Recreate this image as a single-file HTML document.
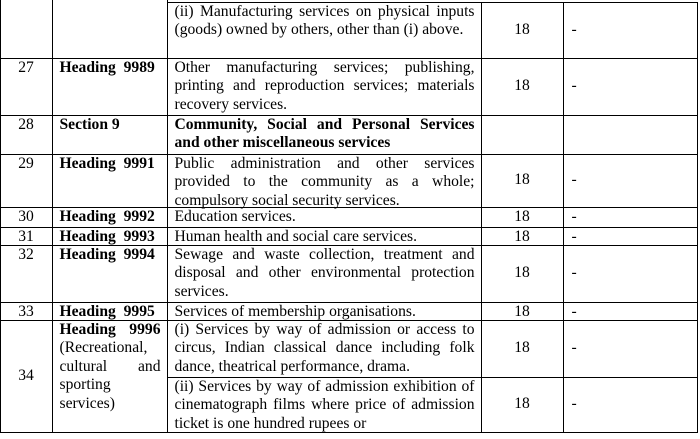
<!DOCTYPE html>
<html><head><meta charset="utf-8"><style>
html,body{margin:0;padding:0;background:#fff;}
#t{position:relative;width:700px;height:439px;overflow:hidden;font-family:"Liberation Serif",serif;font-size:15.6px;line-height:18.5px;color:#000;}
.c{position:absolute;box-sizing:border-box;border:1px solid #000;margin:-0.5px 0 0 -0.5px;}
.d{padding:0px 6px 0 7px;text-align:justify;}
.n{text-align:center;}
.h{padding:0 6px 0 7px;font-weight:bold;text-align:justify;}
.v{display:flex;align-items:center;}
.v span{display:block;width:100%;}
</style></head><body>
<div id="t">
<div class="c" style="left:0;top:-20px;width:53px;height:79px"></div>
<div class="c" style="left:52px;top:-20px;width:116px;height:79px"></div>
<div class="c d" style="left:167px;top:2px;width:315px;height:57px">(ii) Manufacturing services on physical inputs (goods) owned by others, other than (i) above.</div>
<div class="c n v" style="left:481px;top:2px;width:83px;height:57px"><span>18</span></div>
<div class="c v" style="left:563px;top:2px;width:135px;height:57px;padding-left:8px"><span>-</span></div>

<div class="c n" style="left:0;top:58px;width:53px;height:58px">27</div>
<div class="c h" style="left:52px;top:58px;width:116px;height:58px">Heading&nbsp; 9989</div>
<div class="c d" style="left:167px;top:58px;width:315px;height:58px">Other manufacturing services; publishing, printing and reproduction services; materials recovery services.</div>
<div class="c n v" style="left:481px;top:58px;width:83px;height:58px"><span>18</span></div>
<div class="c v" style="left:563px;top:58px;width:135px;height:58px;padding-left:8px"><span>-</span></div>

<div class="c n" style="left:0;top:115px;width:53px;height:40px">28</div>
<div class="c h" style="left:52px;top:115px;width:116px;height:40px">Section 9</div>
<div class="c d" style="left:167px;top:115px;width:315px;height:40px;font-weight:bold">Community, Social and Personal Services and other miscellaneous services</div>
<div class="c" style="left:481px;top:115px;width:83px;height:40px"></div>
<div class="c" style="left:563px;top:115px;width:135px;height:40px"></div>

<div class="c n" style="left:0;top:154px;width:53px;height:54px">29</div>
<div class="c h" style="left:52px;top:154px;width:116px;height:54px">Heading&nbsp; 9991</div>
<div class="c d" style="left:167px;top:154px;width:315px;height:54px">Public administration and other services provided to the community as a whole; compulsory social security services.</div>
<div class="c n v" style="left:481px;top:154px;width:83px;height:54px"><span>18</span></div>
<div class="c v" style="left:563px;top:154px;width:135px;height:54px;padding-left:8px"><span>-</span></div>

<div class="c n" style="left:0;top:207px;width:53px;height:21px;line-height:18px">30</div>
<div class="c h" style="left:52px;top:207px;width:116px;height:21px;line-height:18px">Heading&nbsp; 9992</div>
<div class="c d" style="left:167px;top:207px;width:315px;height:21px;line-height:18px">Education services.</div>
<div class="c n" style="left:481px;top:207px;width:83px;height:21px;line-height:18px">18</div>
<div class="c" style="left:563px;top:207px;width:135px;height:21px;line-height:18px;padding-left:8px">-</div>

<div class="c n" style="left:0;top:227px;width:53px;height:19px;line-height:17px">31</div>
<div class="c h" style="left:52px;top:227px;width:116px;height:19px;line-height:17px">Heading&nbsp; 9993</div>
<div class="c d" style="left:167px;top:227px;width:315px;height:19px;line-height:17px">Human health and social care services.</div>
<div class="c n" style="left:481px;top:227px;width:83px;height:19px;line-height:17px">18</div>
<div class="c" style="left:563px;top:227px;width:135px;height:19px;line-height:17px;padding-left:8px">-</div>

<div class="c n" style="left:0;top:245px;width:53px;height:58px">32</div>
<div class="c h" style="left:52px;top:245px;width:116px;height:58px">Heading&nbsp; 9994</div>
<div class="c d" style="left:167px;top:245px;width:315px;height:58px">Sewage and waste collection, treatment and disposal and other environmental protection services.</div>
<div class="c n v" style="left:481px;top:245px;width:83px;height:58px"><span>18</span></div>
<div class="c v" style="left:563px;top:245px;width:135px;height:58px;padding-left:8px"><span>-</span></div>

<div class="c n" style="left:0;top:302px;width:53px;height:19px;line-height:17px">33</div>
<div class="c h" style="left:52px;top:302px;width:116px;height:19px;line-height:17px">Heading&nbsp; 9995</div>
<div class="c d" style="left:167px;top:302px;width:315px;height:19px;line-height:17px">Services of membership organisations.</div>
<div class="c n" style="left:481px;top:302px;width:83px;height:19px;line-height:17px">18</div>
<div class="c" style="left:563px;top:302px;width:135px;height:19px;line-height:17px;padding-left:8px">-</div>

<div class="c n v" style="left:0;top:320px;width:53px;height:113px"><span>34</span></div>
<div class="c h" style="left:52px;top:320px;width:116px;height:113px;font-weight:normal"><b>Heading&nbsp; 9996</b> (Recreational, cultural and sporting services)</div>
<div class="c d" style="left:167px;top:320px;width:315px;height:58px">(i) Services by way of admission or access to circus, Indian classical dance including folk dance, theatrical performance, drama.</div>
<div class="c n v" style="left:481px;top:320px;width:83px;height:58px"><span>18</span></div>
<div class="c v" style="left:563px;top:320px;width:135px;height:58px;padding-left:8px"><span>-</span></div>
<div class="c d" style="left:167px;top:377px;width:315px;height:56px">(ii) Services by way of admission exhibition of cinematograph films where price of admission ticket is one hundred rupees or</div>
<div class="c n v" style="left:481px;top:377px;width:83px;height:56px"><span>18</span></div>
<div class="c v" style="left:563px;top:377px;width:135px;height:56px;padding-left:8px"><span>-</span></div>
</div>
</body></html>
